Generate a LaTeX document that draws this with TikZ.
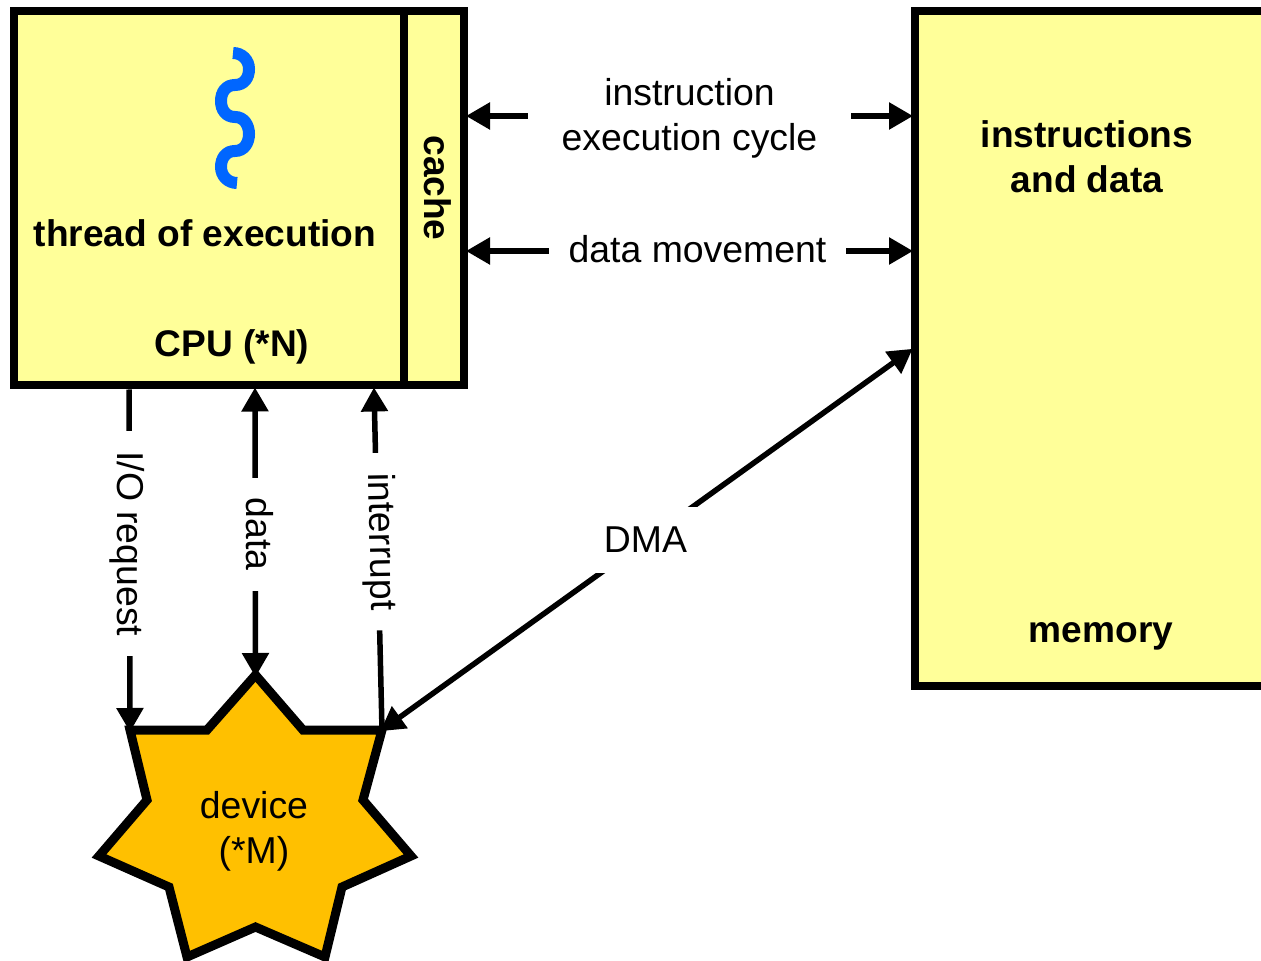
\documentclass[tikz,border=0pt]{standalone}
\usepackage{fontspec}
\setmainfont{Liberation Sans}
\usetikzlibrary{arrows.meta}
\definecolor{boxyellow}{RGB}{255,255,153}
\definecolor{devorange}{RGB}{255,192,0}
\definecolor{threadblue}{RGB}{0,102,255}

\begin{document}
\begin{tikzpicture}[x=0.5pt, y=-0.5pt]
	\tikzstyle{yellowbox} = [rectangle, draw, line width=4pt, fill=boxyellow, minimum size=0pt, inner sep=0pt]
	\tikzstyle{plainlabel} = [align=center, inner sep=0pt, font=\fontsize{18.7}{22.5}\selectfont]
	\tikzstyle{boldlabel} = [plainlabel, font=\fontsize{18.55}{22.5}\selectfont\bfseries]
	\tikzstyle{gaplabel} = [plainlabel, fill=white, inner xsep=10pt, inner ysep=3pt]
	\tikzstyle{link} = [line width=2.75pt, shorten >=-1pt, -{Triangle[length=12pt, width=13pt]}]
	\tikzstyle{twolink} = [link, shorten <=-1pt, {Triangle[length=12pt, width=13pt]}-{Triangle[length=12pt, width=13pt]}]
	\path[use as bounding box, clip] (0,0) rectangle (1261,961);
	% boxes
	\node[yellowbox, minimum width=195pt, minimum height=187pt] (cpu) at (209,198.5) {};
	\node[yellowbox, minimum width=30pt, minimum height=187pt] (cache) at (434,198.5) {};
	\node[yellowbox, minimum width=250pt, minimum height=337pt] (memory) at (1165,348.5) {};
	\node[boldlabel] (threadname) at (205,233) {thread of execution};
	\node[boldlabel] (cpuname) at (232,347) {CPU (*N)};
	\node[boldlabel, rotate=-90] (cachename) at (438,188) {cache};
	\node[boldlabel] (memdata) at (1087,157) {instructions\\and data};
	\node[boldlabel] (memname) at (1101,636) {memory};
	% thread
	\draw[line width=6pt, threadblue] (233,53)
		.. controls (242,53) and (249,60) .. (249,69)
		.. controls (249,78) and (244,85) .. (235,85)
		.. controls (226,85) and (221,92) .. (221,101)
		.. controls (221,110) and (226,117) .. (235,117)
		.. controls (244,117) and (249,125) .. (249,134)
		.. controls (249,143) and (244,151) .. (235,151)
		.. controls (226,151) and (221,158) .. (221,167)
		.. controls (221,176) and (228,183) .. (237,183);
	% device
	\draw[line width=4.5pt, fill=devorange]
		(255.5,675) coordinate (devtop) -- (303,730) -- (382,730) coordinate (devright)
		-- (363,800) -- (411,856) -- (342,887) -- (325,957) -- (255.5,927) -- (187,957)
		-- (169,887) -- (99,856) -- (147,800) -- (130,730) coordinate (devleft) -- (207,730) -- cycle;
	\node[plainlabel] (device) at (254,831) {device\\(*M)};
	% connectors
	\draw[twolink] (cache.east |- 0,116) -- (memory.west |- 0,116) node[gaplabel, midway, inner xsep=17pt, yshift=-1pt] (cyclelabel) {instruction\\execution cycle};
	\draw[twolink] (cache.east |- 0,251) -- (memory.west |- 0,251) node[gaplabel, midway, xshift=4pt, yshift=1pt] (movelabel) {data movement};
	\draw[link] (cpu.south -| 129,0) -- (devleft) node[gaplabel, midway, rotate=-90, yshift=-1pt, xshift=-8pt] (iolabel) {I/O request};
	\draw[twolink] (cpu.south -| 255,0) -- (devtop) node[gaplabel, midway, rotate=-90, xshift=1pt, yshift=2.5pt] (datalabel) {data};
	\draw[link] (devright) -- (cpu.south -| 374,0) node[gaplabel, midway, rotate=-89, xshift=-9pt, yshift=1pt] (intlabel) {interrupt};
	\draw[twolink] (devright) -- (memory.west |- 0,350) node[gaplabel, midway, inner ysep=10pt, xshift=-0.5pt] (dmalabel) {DMA};
\end{tikzpicture}
\end{document}
